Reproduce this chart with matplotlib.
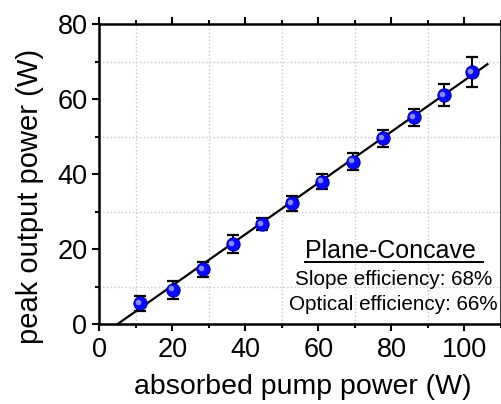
import numpy as np
import matplotlib
matplotlib.use("Agg")
import matplotlib.pyplot as plt
from matplotlib.ticker import MultipleLocator
from matplotlib.transforms import ScaledTranslation

plt.rcParams['font.family'] = ['Liberation Sans', 'DejaVu Sans']

# measured data
pump = [11.1, 20.1, 28.3, 36.5, 44.6, 52.8, 61.1, 69.6, 77.7, 86.1, 94.3, 102.0]
output = [5.6, 9.3, 14.7, 21.3, 26.7, 32.3, 38.0, 43.4, 49.6, 55.2, 61.1, 67.2]
err = [2.0, 2.4, 2.0, 2.4, 1.6, 2.0, 2.0, 2.2, 2.2, 2.2, 2.9, 4.0]

# linear fit
slope = 0.684
x_threshold = 4.9
fit_x = [4.2, 106.3]

fig = plt.figure(figsize=(5.01, 4.04), dpi=100)
ax = fig.add_axes([0.198, 0.197, 0.802, 0.743])

fx = np.array(fit_x)
ax.plot(fx, slope * (fx - x_threshold), color='black', lw=1.6, zorder=3)
ax.errorbar(pump, output, yerr=err, fmt='none', ecolor='black', elinewidth=1.5,
            capsize=4.5, capthick=1.6, zorder=4)
ax.plot(pump, output, 'o', ms=9.5, mfc='#0a0aff', mec='#0000b0', mew=0.8, zorder=5)
# glossy highlight
ax.plot(pump, output, 'o', ms=4, mfc='#a0a0ff', mec='none', alpha=0.85, zorder=6,
        transform=ax.transData + ScaledTranslation(-2/100, 1.5/100, fig.dpi_scale_trans))

ax.set_xlim(0, 109.3)
ax.set_ylim(0, 80)
ax.xaxis.set_major_locator(MultipleLocator(20))
ax.yaxis.set_major_locator(MultipleLocator(20))
ax.set_xticks([10, 30, 50, 70, 90, 110], minor=True)
ax.set_yticks([10, 30, 50, 70], minor=True)
ax.grid(True, which='minor', color='#c8c8c8', ls=':', lw=1)
ax.tick_params(which='both', direction='out', width=1.5, labelsize=19.5, top=True)
ax.tick_params(axis='y', which='major', pad=3.5)
ax.tick_params(axis='x', which='major', pad=4)
ax.tick_params(which='major', length=5)
ax.tick_params(which='minor', length=3)
for s in ax.spines.values():
    s.set_linewidth(1.8)

ax.set_xlabel('absorbed pump power (W)', fontsize=20.5)
ax.set_ylabel('peak output power (W)', fontsize=21)
ax.xaxis.set_label_coords(0.506, -0.165)
ax.yaxis.set_label_coords(-0.137, 0.425)

ax.text(0.725, 0.22, 'Plane-Concave', transform=ax.transAxes, fontsize=18,
        ha='center', va='baseline')
ax.plot([0.512, 0.955], [0.2087, 0.2087], transform=ax.transAxes, color='black', lw=1.4)
ax.text(0.733, 0.131, 'Slope efficiency: 68%', transform=ax.transAxes, fontsize=14.9,
        ha='center', va='baseline')
ax.text(0.733, 0.048, 'Optical efficiency: 66%', transform=ax.transAxes, fontsize=14.9,
        ha='center', va='baseline')

fig.savefig('out.png', dpi=100)
